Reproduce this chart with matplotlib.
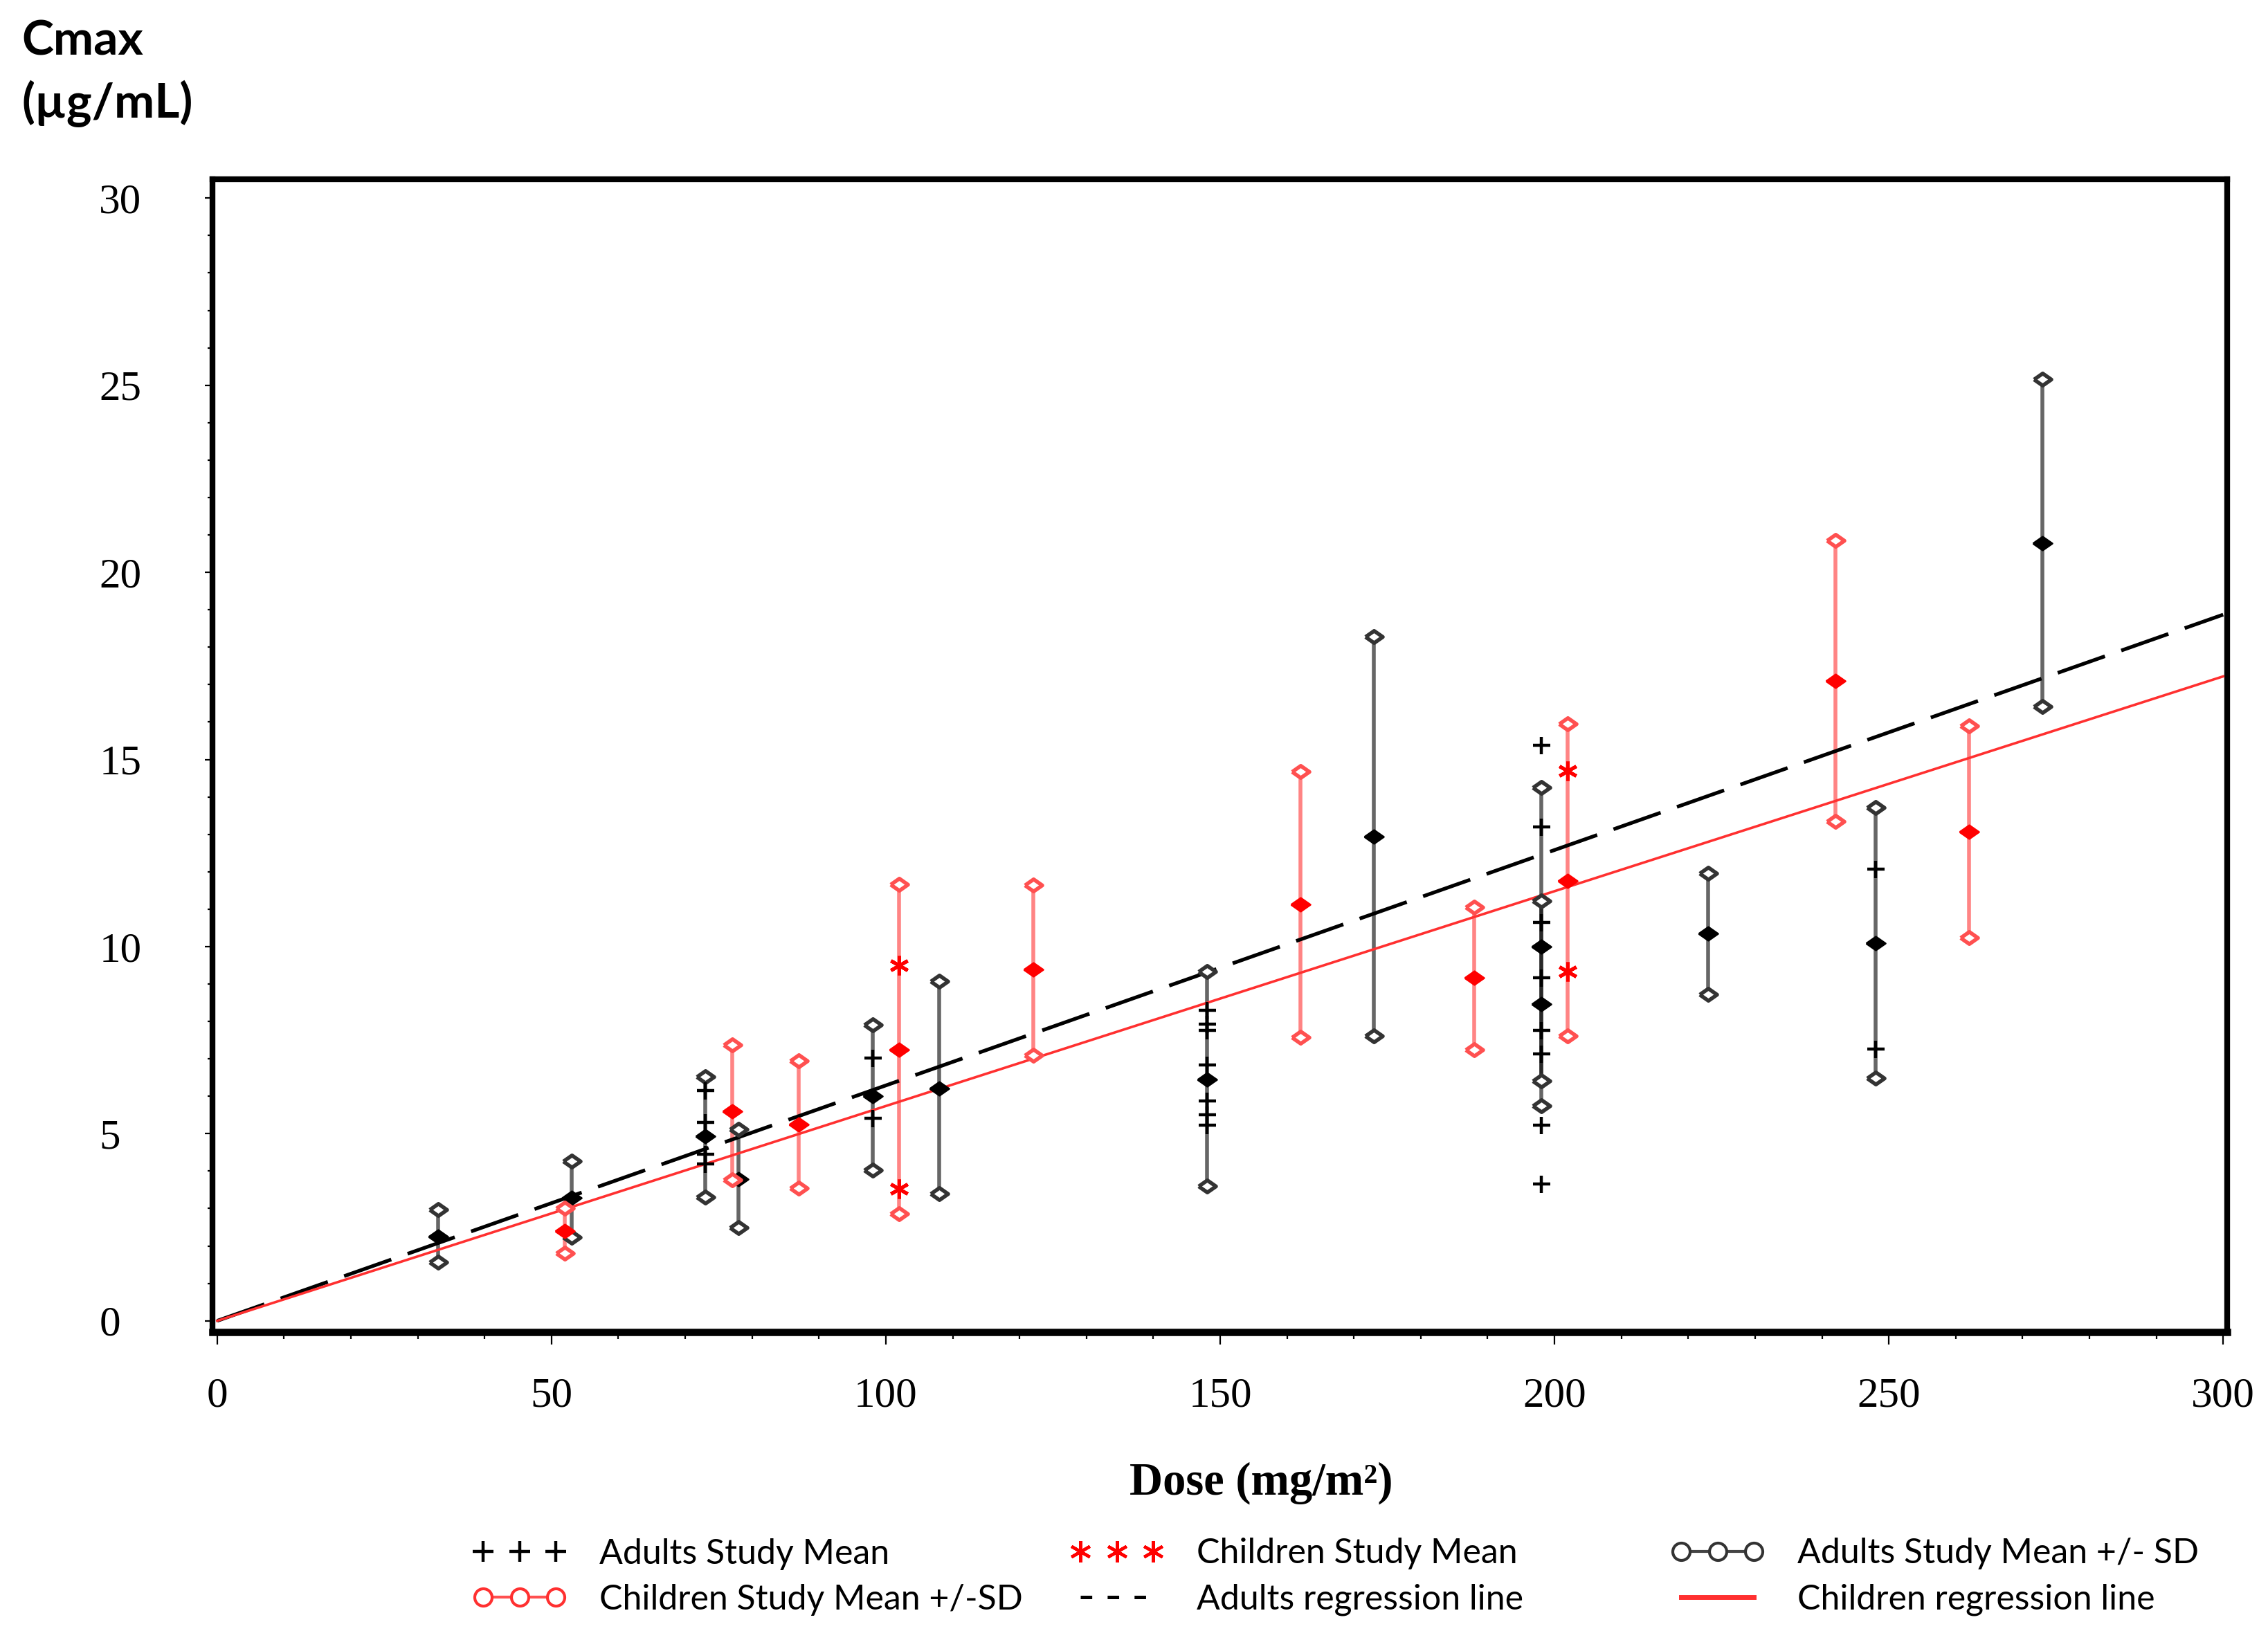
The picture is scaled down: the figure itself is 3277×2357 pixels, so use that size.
import numpy as np
import matplotlib.pyplot as plt
from matplotlib.lines import Line2D
from matplotlib.ticker import MultipleLocator

plt.rcParams['lines.scale_dashes'] = False

# Adults: study mean +/- SD
adult_dose = [33, 53, 73, 78, 98, 108, 148, 173, 198, 198, 223, 248, 273]
adult_mean = [2.25, 3.28, 4.93, 3.78, 6.0, 6.2, 6.44, 12.93, 10.0, 8.46, 10.35, 10.09, 20.78]
adult_low = [1.56, 2.24, 3.3, 2.49, 4.03, 3.39, 3.6, 7.61, 5.75, 6.41, 8.73, 6.48, 16.41]
adult_high = [2.98, 4.26, 6.52, 5.12, 7.9, 9.07, 9.33, 18.28, 14.25, 11.22, 11.96, 13.71, 25.17]

# Adults: single study means
adult_pt_dose = [73, 73, 73, 73, 98, 98, 148, 148, 148, 148, 148, 148, 148,
                 198, 198, 198, 198, 198, 198, 198, 198, 248, 248]
adult_pt_cmax = [6.15, 5.3, 4.45, 4.19, 7.03, 5.41, 8.29, 7.92, 7.76, 6.84, 5.88, 5.51, 5.23,
                 15.38, 13.19, 10.64, 9.17, 7.77, 7.14, 5.22, 3.65, 12.07, 7.26]

# Children: study mean +/- SD
child_dose = [52, 77, 87, 102, 122, 162, 188, 202, 242, 262]
child_mean = [2.39, 5.6, 5.25, 7.25, 9.39, 11.12, 9.16, 11.75, 17.09, 13.06]
child_low = [1.81, 3.77, 3.55, 2.86, 7.1, 7.57, 7.24, 7.61, 13.34, 10.24]
child_high = [3.0, 7.38, 6.95, 11.67, 11.64, 14.67, 11.06, 15.95, 20.86, 15.9]

# Children: single study means
child_pt_dose = [102, 102, 202, 202]
child_pt_cmax = [9.5, 3.53, 14.69, 9.33]

# regression lines (through origin)
adult_slope = 0.0629
child_slope = 0.0574
reg_dose = np.array([0, 300])

diam = [(-1, 0), (0, 0.7), (1, 0), (0, -0.7), (-1, 0)]

fig = plt.figure(figsize=(16.385, 11.785), dpi=200)
ax = fig.add_axes([0.0937, 0.1833, 0.8883, 0.7067])

# adult bars
ax.vlines(adult_dose, adult_low, adult_high, color='black', alpha=0.6, lw=2, zorder=2)
ax.plot(adult_dose, adult_low, ls='none', marker=diam, ms=9, mfc='white', mec='#333333', mew=2, zorder=4)
ax.plot(adult_dose, adult_high, ls='none', marker=diam, ms=9, mfc='white', mec='#333333', mew=2, zorder=4)
ax.plot(adult_dose, adult_mean, ls='none', marker=diam, ms=10, color='black', zorder=4)
ax.plot(adult_pt_dose, adult_pt_cmax, ls='none', marker='+', ms=9, mew=1.6, color='black', zorder=4)

# children bars
ax.vlines(child_dose, child_low, child_high, color='#ff2020', alpha=0.55, lw=2, zorder=2)
ax.plot(child_dose, child_low, ls='none', marker=diam, ms=9, mfc='white', mec='#ff5050', mew=2, zorder=4)
ax.plot(child_dose, child_high, ls='none', marker=diam, ms=9, mfc='white', mec='#ff5050', mew=2, zorder=4)
ax.plot(child_dose, child_mean, ls='none', marker=diam, ms=10, color='#ff0000', zorder=4)
ax.plot(child_pt_dose, child_pt_cmax, ls='none', marker=(6, 2, 0), ms=10, mew=1.8, color='#ff0000', zorder=4)

# regression lines
ax.plot(reg_dose, adult_slope * reg_dose, color='black', lw=1.9, dashes=(26, 9), zorder=3)
ax.plot(reg_dose, child_slope * reg_dose, color='#ff3030', lw=1.3, zorder=3)

ax.set_xlim(-0.7, 300.6)
ax.set_ylim(-0.3, 30.5)
ax.xaxis.set_major_locator(MultipleLocator(50))
ax.xaxis.set_minor_locator(MultipleLocator(10))
ax.yaxis.set_major_locator(MultipleLocator(5))
ax.yaxis.set_minor_locator(MultipleLocator(1))
for s in ax.spines.values():
    s.set_linewidth(3)
ax.spines['bottom'].set_linewidth(3.8)
ax.tick_params(axis='x', which='major', direction='out', length=6.5, width=0.8, pad=17, labelsize=22)
ax.tick_params(axis='x', which='minor', direction='out', length=3.6, width=0.8)
ax.tick_params(axis='y', which='major', direction='out', length=4, width=0.8, pad=55, labelsize=22)
ax.tick_params(axis='y', which='minor', direction='out', length=2.5, width=0.8)
for lab in ax.get_xticklabels() + ax.get_yticklabels():
    lab.set_family('Liberation Serif')
for lab in ax.get_yticklabels():
    lab.set_ha('left')

fig.text(0.556, 0.0908, 'Dose (mg/m²)', ha='center', va='center',
         family='Liberation Serif', weight='bold', size=24)
fig.text(0.0095, 0.988, 'Cmax\n(µg/mL)', ha='left', va='top',
         family='Lato', weight='bold', size=25, linespacing=1.45)

# legend
h_amean = Line2D([], [], ls='none', marker='+', color='black', ms=11, mew=1.6)
h_csd = Line2D([], [], color='#ff5050', lw=1.5, marker='o', mfc='white', mec='#ff3030', mew=1.5, ms=9)
h_cmean = Line2D([], [], ls='none', marker=(6, 2, 0), color='#ff0000', ms=11, mew=1.6)
h_areg = Line2D([], [], color='black', lw=1.8, dashes=(6, 8))
h_asd = Line2D([], [], color='#444444', lw=1.5, marker='o', mfc='white', mec='#333333', mew=1.5, ms=9)
h_creg = Line2D([], [], color='#ff3030', lw=2.5)

legend_cols = [
    ([h_amean, h_csd], ['Adults Study Mean', 'Children Study Mean +/-SD'], 0.2085),
    ([h_cmean, h_areg], ['Children Study Mean', 'Adults regression line'], 0.4718),
    ([h_asd, h_creg], ['Adults Study Mean +/- SD', 'Children regression line'], 0.7367),
]
for handles, labels, x0 in legend_cols:
    fig.legend(handles, labels, loc='center left', bbox_to_anchor=(x0, 0.0333),
               frameon=False, numpoints=3, handlelength=2.7, handletextpad=0.96,
               labelspacing=0.4, borderpad=0, borderaxespad=0,
               prop={'family': 'Lato', 'size': 18})

fig.savefig('out.png', dpi=200)
